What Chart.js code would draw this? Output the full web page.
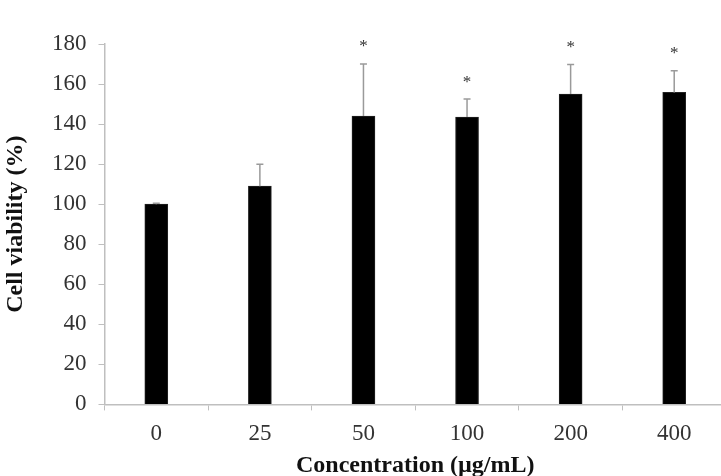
<!DOCTYPE html>
<html>
<head>
  <meta charset="UTF-8">
  <title>Cell viability</title>
  <script src="https://cdn.jsdelivr.net/npm/chart.js@4.4.4/dist/chart.umd.min.js"></script>
  <style>
    html, body { margin: 0; padding: 0; background: #fff; overflow: hidden; }
    #wrap { width: 726px; height: 476px; }
  </style>
</head>
<body>
<div id="wrap"><canvas id="chart"></canvas></div>

<script>
  const concentrations = ['0', '25', '50', '100', '200', '400'];
  const viability = [100, 109, 144, 143.5, 155, 155.8];
  const viabilitySD = [0.5, 11, 26, 9, 14.7, 10.8];
  const significance = ['', '', '*', '*', '*', '*'];
  const yTicks = [0, 20, 40, 60, 80, 100, 120, 140, 160, 180];

  const axisGrey = '#bfbfbf';
  const serif = '"Liberation Serif", "Times New Roman", serif';

  // upper error bars + asterisks + axis titles
  const extras = {
    id: 'extras',
    afterDatasetsDraw(chart) {
      const ctx = chart.ctx;
      const y = chart.scales.y;
      const meta = chart.getDatasetMeta(0);
      ctx.save();
      meta.data.forEach((bar, i) => {
        const top = y.getPixelForValue(viability[i]);
        const cap = y.getPixelForValue(viability[i] + viabilitySD[i]);
        ctx.strokeStyle = '#9a9a9a';
        ctx.lineWidth = 1.5;
        ctx.beginPath();
        ctx.moveTo(bar.x, top);
        ctx.lineTo(bar.x, cap);
        ctx.moveTo(bar.x - 3.5, cap);
        ctx.lineTo(bar.x + 3.5, cap);
        ctx.stroke();
        if (significance[i]) {
          ctx.fillStyle = '#333';
          ctx.font = '17px ' + serif;
          ctx.textAlign = 'center';
          ctx.textBaseline = 'middle';
          ctx.fillText(significance[i], bar.x, cap - 17);
        }
      });
      ctx.restore();
    },
    afterDraw(chart) {
      const ctx = chart.ctx;
      const area = chart.chartArea;
      ctx.save();
      ctx.fillStyle = '#111';
      ctx.font = 'bold 24px ' + serif;
      ctx.textAlign = 'center';
      ctx.textBaseline = 'middle';
      ctx.fillText('Concentration (\u00b5g/mL)', (area.left + area.right) / 2, 466);
      ctx.translate(16, (area.top + area.bottom) / 2);
      ctx.rotate(-Math.PI / 2);
      ctx.fillText('Cell viability (%)', 0, 0);
      ctx.restore();
    }
  };

  new Chart(document.getElementById('chart'), {
    type: 'bar',
    data: {
      labels: concentrations,
      datasets: [{
        data: viability,
        backgroundColor: '#000',
        borderColor: '#222',
        borderWidth: 1,
        barThickness: 23
      }]
    },
    options: {
      responsive: true,
      maintainAspectRatio: false,
      animation: false,
      layout: { padding: { left: 40, top: 44, right: 0, bottom: 18 } },
      plugins: {
        legend: { display: false },
        tooltip: { enabled: false }
      },
      scales: {
        x: {
          grid: { display: true, drawOnChartArea: false, offset: true, color: axisGrey, tickLength: 6 },
          border: { color: axisGrey, width: 1.5 },
          ticks: { color: '#333', padding: 10, font: { family: serif, size: 23 } }
        },
        y: {
          min: 0,
          max: 180,
          afterBuildTicks: scale => { scale.ticks = yTicks.map(v => ({ value: v })); },
          grid: { display: true, drawOnChartArea: false, color: axisGrey, tickLength: 6 },
          border: { color: axisGrey, width: 1.5 },
          ticks: { color: '#333', padding: 12, font: { family: serif, size: 23 } }
        }
      }
    },
    plugins: [extras]
  });
</script>
</body>
</html>
